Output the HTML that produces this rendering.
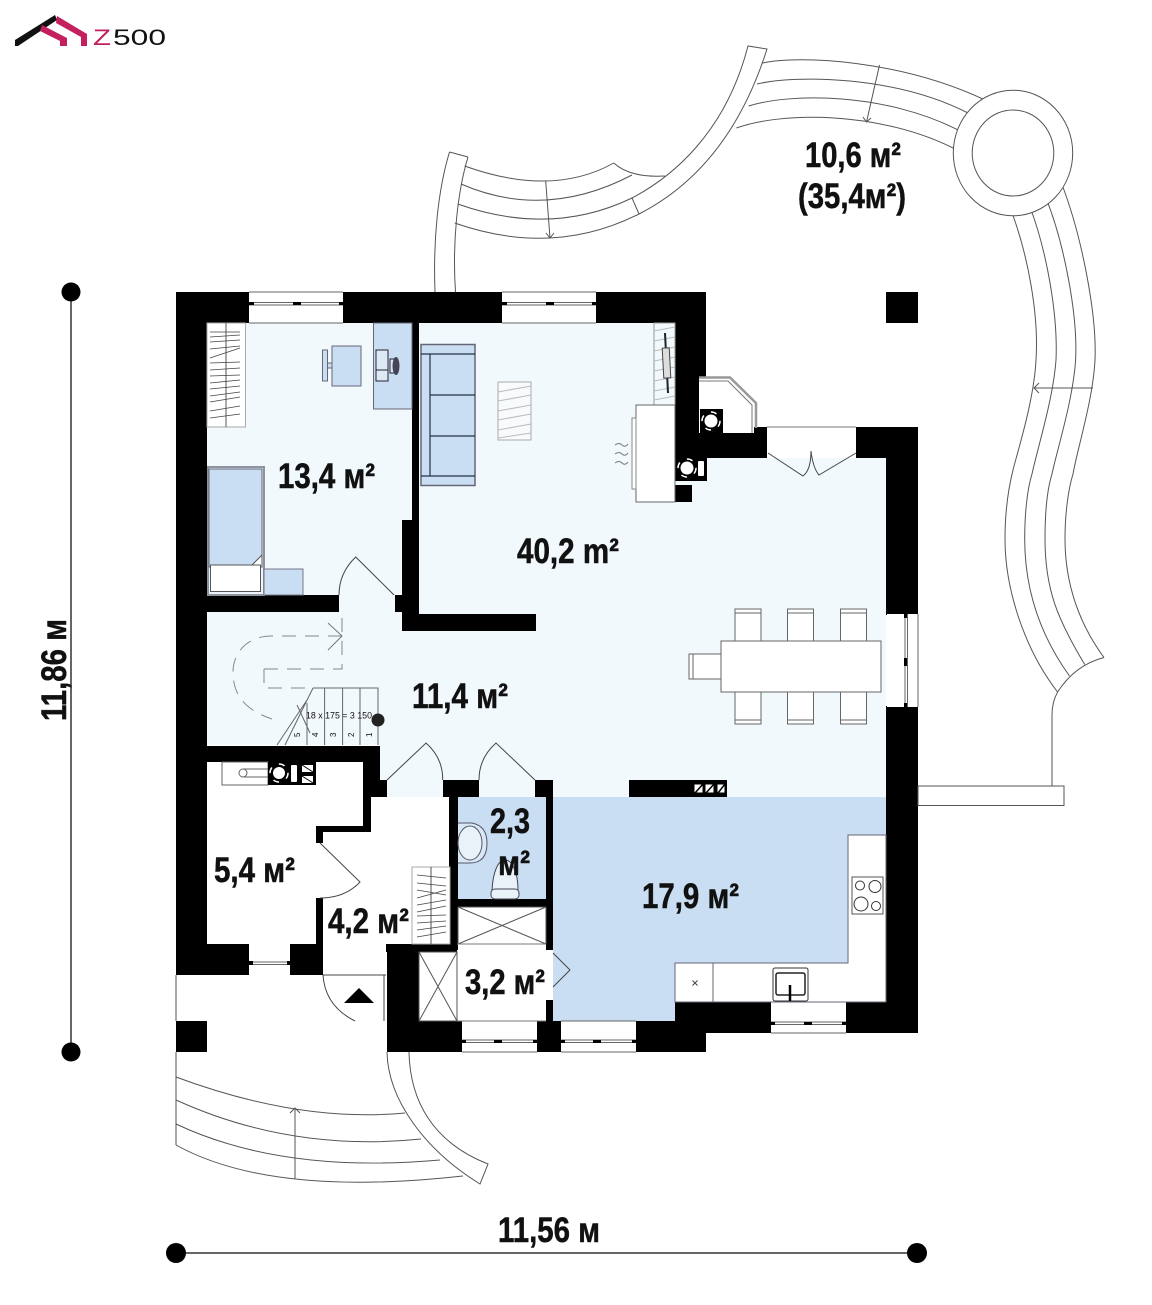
<!DOCTYPE html>
<html>
<head>
<meta charset="utf-8">
<style>
html,body{margin:0;padding:0;background:#fff;width:1152px;height:1305px;overflow:hidden}
svg{display:block}
text{font-family:"Liberation Sans",sans-serif;font-weight:400;fill:#111}
.b{font-weight:700;font-size:35px;stroke:#111;stroke-width:.5px}
.d{fill:none;stroke:#888;stroke-width:1;stroke-dasharray:14 9}
</style>
</head>
<body>
<svg width="1152" height="1305" viewBox="0 0 1152 1305" xmlns="http://www.w3.org/2000/svg">
<polygon points="207,323 675,323 675,458 886,458 886,797 380,797 380,745 207,745" fill="#f1f9fd"/>
<rect x="553" y="797" width="333" height="224" fill="#c9def2"/>
<rect x="458" y="797" width="88" height="102" fill="#c9def2"/>
<g fill="#000">
<rect x="176" y="292" width="73" height="31"/>
<rect x="343" y="292" width="159" height="31"/>
<rect x="596" y="292" width="110" height="31"/>
<rect x="176" y="292" width="31" height="683"/>
<rect x="412" y="323" width="7" height="200"/>
<rect x="402" y="520" width="17" height="111"/>
<rect x="402" y="614" width="134" height="17"/>
<rect x="207" y="595" width="132" height="17"/>
<rect x="395" y="595" width="8" height="17"/>
<rect x="675" y="323" width="31" height="55"/>
<rect x="675" y="375" width="24" height="106"/>
<rect x="699" y="433" width="68" height="25"/>
<rect x="754" y="427" width="13" height="10"/>
<rect x="677" y="458" width="30" height="23"/>
<rect x="675" y="485" width="17" height="17"/>
<rect x="856" y="427" width="62" height="31"/>
<rect x="886" y="427" width="32" height="188"/>
<rect x="886" y="292" width="32" height="31"/>
<rect x="886" y="706" width="32" height="327"/>
<rect x="846" y="1002" width="72" height="31"/>
<rect x="675" y="1002" width="96" height="31"/>
<rect x="636" y="1021" width="70" height="31"/>
<rect x="537" y="1021" width="24" height="31"/>
<rect x="387" y="1021" width="75" height="31"/>
<rect x="387" y="944" width="32" height="80"/>
<rect x="386" y="944" width="71" height="8"/>
<rect x="449" y="780" width="9" height="170"/>
<rect x="443" y="780" width="36" height="17"/>
<rect x="535" y="780" width="18" height="17"/>
<rect x="546" y="797" width="7" height="153"/>
<rect x="546" y="1000" width="7" height="22"/>
<rect x="449" y="899" width="97" height="8"/>
<rect x="207" y="746" width="173" height="16"/>
<rect x="363" y="762" width="17" height="35"/>
<rect x="380" y="780" width="7" height="17"/>
<rect x="363" y="797" width="8" height="35"/>
<rect x="316" y="826" width="55" height="6"/>
<rect x="316" y="826" width="7" height="17"/>
<rect x="316" y="898" width="7" height="46"/>
<rect x="176" y="944" width="73" height="31"/>
<rect x="290" y="944" width="33" height="31"/>
<rect x="176" y="1021" width="31" height="31"/>
<rect x="629" y="780" width="98" height="17"/>
</g>
<g fill="#fff">
<rect x="887" y="614" width="31" height="93"/>
<rect x="771" y="1002" width="75" height="31"/>
</g>
<g stroke="#666" stroke-width="1" fill="none">
<path d="M249,292H343M249,302.5H343M249,305H343M249,323H343"/>
<path d="M502,292H596M502,302.5H596M502,305H596M502,323H596"/>
<path d="M771,1002H846M771,1022H846M771,1024.5H846M771,1033H846"/>
<path d="M561,1021H636M561,1040H636M561,1042.5H636M561,1052H636"/>
<path d="M462,1021H537M462,1040H537M462,1042.5H537M462,1052H537"/>
<path d="M249,962H290M249,964.5H290"/>
<path d="M905,614V707M907.5,614V707M918,614V707"/>
</g>
<g fill="#000">
<rect x="249" y="302" width="5" height="3"/><rect x="293" y="302" width="8" height="3"/><rect x="339" y="302" width="4" height="3"/>
<rect x="502" y="302" width="5" height="3"/><rect x="546" y="302" width="8" height="3"/><rect x="592" y="302" width="4" height="3"/>
<rect x="771" y="1022" width="4" height="3"/><rect x="804" y="1022" width="8" height="3"/><rect x="842" y="1022" width="4" height="3"/>
<rect x="561" y="1040" width="4" height="3"/><rect x="593" y="1040" width="8" height="3"/><rect x="632" y="1040" width="4" height="3"/>
<rect x="462" y="1040" width="4" height="3"/><rect x="494" y="1040" width="8" height="3"/><rect x="533" y="1040" width="4" height="3"/>
<rect x="249" y="961" width="4" height="4"/><rect x="287" y="961" width="4" height="4"/>
<rect x="904" y="614" width="3" height="4"/><rect x="904" y="658" width="3" height="8"/><rect x="904" y="703" width="3" height="4"/>
</g>
<path d="M699,377.5H730L756,403V428" fill="none" stroke="#999" stroke-width="2.5"/>
<path d="M699,381H728L752,405V433" fill="none" stroke="#777" stroke-width="1"/>
<rect x="700" y="409" width="23" height="24" fill="#000"/>
<circle cx="711" cy="421" r="6.5" fill="#fff"/>
<circle cx="711" cy="421" r="9" fill="none" stroke="#fff" stroke-width="1.5" stroke-dasharray="6 8"/>
<circle cx="687" cy="468" r="6.5" fill="#fff"/>
<circle cx="687" cy="468" r="9" fill="none" stroke="#fff" stroke-width="1.5" stroke-dasharray="6 8"/>
<rect x="698" y="461" width="6" height="15" rx="1" fill="#fff"/>
<rect x="654" y="323" width="21" height="82" fill="#f1f9fd" stroke="#999"/>
<path d="M654,331L675,327M654,341L675,337M654,351L675,347M654,361L675,357M654,371L675,367M654,381L675,377M654,391L675,387M654,400L675,396" stroke="#bbb"/>
<path d="M665,333L668,393" stroke="#222" stroke-width="2"/>
<rect x="663" y="348" width="7" height="30" fill="#ddd" stroke="#444" transform="rotate(-3 666 363)"/>
<rect x="636" y="405" width="39" height="97" fill="#fff" stroke="#666"/>
<rect x="632" y="418" width="4" height="71" fill="#fff" stroke="#888"/>
<path d="M615,445q4,-3 7,0t6,-1M615,454q4,-3 7,0t6,-1M615,463q4,-3 7,0t6,-1" fill="none" stroke="#777"/>
<rect x="421" y="344.5" width="54" height="141" fill="#c9def2" stroke="#667" stroke-width="1.5"/>
<path d="M421,354H475M430,354V476M430,395H475M430,436H475M421,476H475" fill="none" stroke="#234" stroke-width="1.2"/>
<rect x="498" y="382" width="33" height="58" fill="#f8fbfc" stroke="#aaa"/>
<path d="M498,392L531,386M498,401L531,395M498,411L531,405M498,420L531,414M498,430L531,424M498,438L531,433" stroke="#bbb"/>
<rect x="207" y="323" width="38.5" height="104" fill="#fff" stroke="#aaa"/>
<path d="M226,323V427" stroke="#555"/>
<path d="M210,332L240,332M210,337L240,335M210,342L240,340M210,349L240,346M210,358L240,348M210,363L240,362M210,370L240,368M210,376L240,375M210,383L240,380M210,389L240,386M210,396L240,392M210,402L240,397M210,411L240,406M210,418L240,414" stroke="#444" stroke-width=".8"/>
<rect x="322.5" y="350" width="5" height="31" fill="#c9def2" stroke="#667"/>
<rect x="327.5" y="363" width="5" height="5" fill="#c9def2" stroke="#667"/>
<rect x="332" y="346" width="29" height="40" fill="#c9def2" stroke="#667"/>
<rect x="373.5" y="323" width="38.5" height="86" fill="#c9def2" stroke="#667"/>
<rect x="376" y="350" width="12" height="31" fill="#ddeaf5" stroke="#223"/>
<path d="M376,370H388" stroke="#223"/>
<rect x="390" y="359" width="4" height="14" fill="#ddeaf5" stroke="#223"/>
<ellipse cx="396" cy="366" rx="3.5" ry="9" fill="#445"/>
<rect x="208" y="467" width="56" height="128" fill="#eef4f9" stroke="#8a95a0" stroke-width="2"/>
<rect x="209" y="469" width="53" height="98" fill="#c9def2" stroke="#667"/>
<polygon points="250,567 262,555 262,567" fill="#fff" stroke="#555"/>
<rect x="210.5" y="565" width="50" height="26.5" fill="#fff" stroke="#555"/>
<rect x="264" y="569" width="39" height="26" fill="#c9def2" stroke="#778"/>
<g fill="none" stroke="#444" stroke-width="1">
<path d="M394,595L355.7,557Q339,573 339,595"/>
<path d="M387,780L426,743Q443,758 442.7,780"/>
<path d="M535,780L496,743Q479,758 479,780"/>
<path d="M320,843L360,882Q345,898 320,898"/>
<path d="M553,953L570,970L553,987"/>
<path d="M768,453L803,476Q811,470 811,451Q813,468 819,475L856,453"/>
<path d="M323,975H386M384,975V1021M323,975Q325,1006 355,1021"/>
<path d="M767,427H856" stroke="#777"/>
</g>
<g fill="none" stroke="#666" stroke-width="1">
<path d="M313,688H378V745M360,688V745M342.6,688V745M324.6,688V745M307,703V745"/>
<path d="M313,688L285,745M307,700L277,745M297,705L310,733"/>
</g>
<path class="d" d="M264,669H342V612M264,669V688H305"/>
<path class="d" d="M342,636H272C245,636 233,655 233,672C233,695 245,710 272,719"/>
<path d="M328,623L342,636L328,650" fill="none" stroke="#777"/>
<text x="306" y="718.5" font-size="9" textLength="66" lengthAdjust="spacingAndGlyphs">18 x 175 = 3 150</text>
<g font-size="8">
<text transform="translate(372,737) rotate(-90)">1</text>
<text transform="translate(354,737) rotate(-90)">2</text>
<text transform="translate(336,737) rotate(-90)">3</text>
<text transform="translate(318,737) rotate(-90)">4</text>
<text transform="translate(300,737) rotate(-90)">5</text>
</g>
<circle cx="378" cy="720" r="6.5" fill="#222"/>
<g fill="#fff" stroke="#666">
<rect x="735" y="609" width="26" height="32"/><rect x="787.5" y="609" width="26" height="32"/><rect x="840.5" y="609" width="26" height="32"/>
<rect x="735" y="692" width="26" height="32"/><rect x="787.5" y="692" width="26" height="32"/><rect x="840.5" y="692" width="26" height="32"/>
<rect x="689" y="654" width="32" height="25"/>
<rect x="721" y="641" width="160" height="51"/>
<path d="M735,613H761M787.5,613H813.5M840.5,613H866.5M735,720H761M787.5,720H813.5M840.5,720H866.5M693,654V679" fill="none"/>
</g>
<g fill="#fff" stroke="#000">
<rect x="694" y="784" width="9" height="9"/><rect x="705" y="784" width="9" height="9"/><rect x="717" y="784" width="8" height="9"/>
<path d="M695,793L703,784M706,793L714,784M718,793L725,784" stroke-width="1.5"/>
</g>
<polygon points="848,835 886,835 886,1002 675,1002 675,963 848,963" fill="#fff" stroke="#667"/>
<rect x="852" y="877" width="31" height="37" fill="#fff" stroke="#555"/>
<g fill="none" stroke="#333"><circle cx="860" cy="885.5" r="4.5"/><circle cx="875" cy="886.5" r="6"/><circle cx="861" cy="904" r="7"/><circle cx="876" cy="906" r="4.5"/></g>
<rect x="773" y="968" width="35" height="33" rx="2" fill="#fff" stroke="#333"/>
<rect x="776" y="973" width="29" height="22" rx="2" fill="#fff" stroke="#222" stroke-width="1.5"/>
<path d="M790,985V1001" stroke="#000" stroke-width="2.5"/>
<path d="M713,963V1002" stroke="#667"/>
<path d="M692.5,980.5l5,5M697.5,980.5l-5,5" stroke="#444"/>
<rect x="458" y="907" width="88" height="37" fill="#fff" stroke="#555"/>
<path d="M458,907L546,944M546,907L458,944" stroke="#555"/>
<rect x="419" y="952" width="38" height="69" fill="#fff" stroke="#555"/>
<path d="M419,952L457,1021M457,952L419,1021" stroke="#555"/>
<path d="M457,944H546M457,1021H546" stroke="#777"/>
<rect x="412" y="867" width="38" height="77" fill="#fff" stroke="#aaa"/>
<path d="M431,867V944" stroke="#555"/>
<path d="M417,875L446,878M417,883L446,886M417,890L446,895M417,898L446,890M417,905L446,900M417,912L446,906M417,916L446,915M417,923L446,921M417,930L446,926M417,937L446,932" stroke="#444" stroke-width=".8"/>
<rect x="222" y="762" width="46" height="23" fill="#fff" stroke="#666"/>
<path d="M243,769H268M243,777H268" stroke="#666"/>
<circle cx="243" cy="773" r="4" fill="#fff" stroke="#666"/>
<rect x="268" y="762" width="48" height="23" fill="#000"/>
<circle cx="279" cy="773" r="6" fill="#fff"/>
<circle cx="279" cy="773" r="9" fill="none" stroke="#fff" stroke-width="1.5" stroke-dasharray="6 8"/>
<rect x="291" y="765" width="6" height="17" rx="1" fill="#fff"/>
<rect x="302" y="765" width="11" height="7" fill="#fff"/><rect x="302" y="776" width="11" height="7" fill="#fff"/>
<path d="M302,765L313,772M302,776L313,783" stroke="#000"/>
<path d="M458,823H472Q487,826 487,843Q487,863 470,863H458" fill="#d9e8f5" stroke="#556"/>
<ellipse cx="470" cy="843" rx="12" ry="17" fill="#eaf2f9" stroke="#556"/>
<path d="M492,890C493,872 498,860 505,860C512,860 518,872 518,890" fill="#eaf2f9" stroke="#445"/>
<rect x="491" y="889" width="28" height="10" rx="4" fill="#eaf2f9" stroke="#445"/>
<polygon points="359,988 344,1003 374,1003" fill="#000"/>
<g fill="none" stroke="#555" stroke-width="1">
<path d="M176,975V1021M176,1052V1145"/>
<path d="M176,1077Q299.5,1123 405,1113"/>
<path d="M176,1100Q291.5,1152.5 421,1139"/>
<path d="M176,1124Q282,1174 440,1160"/>
<path d="M176,1145Q270.5,1197.5 463,1176"/>
<path d="M295,1179V1108M290,1113L295,1108L300,1113"/>
<path d="M387,1052C388,1100 425,1150 480,1184L488,1164C432,1142 410,1100 409,1052"/>
<path d="M449.5,152C438,190 433,240 435,292M468,157C458,190 452,240 455.5,292M449.5,152L468,157"/>
<path d="M464.6,166Q552,197.5 613.8,163"/>
<path d="M461,184Q545,220.5 632,175"/>
<path d="M457.7,204Q551,237 632,198"/>
<path d="M454.7,223Q553,257.5 639,214C680,193 735,150 767,49L748,46C725,135 670,178 632,198L639,214"/>
<path d="M613.8,163Q630,178 665,176"/>
<path d="M545.7,181L550,238M546,233L550,238L554,233"/>
<path d="M762.4,63C800,55 900,60 985,100"/>
<path d="M757,84C795,75 895,75 970,114"/>
<path d="M748.6,106C790,93 885,92 960,131"/>
<path d="M736.4,128C780,112 880,110 957,150"/>
<path d="M879.5,65L866.5,122M863,117L866.5,122L871,118"/>
<path d="M1011,210C1028,255 1039,315 1036,360C1034,400 1018,450 1013,470C1008,490 1005,515 1005,539C1005,590 1025,650 1057.6,692"/>
<path d="M1030,207C1047,252 1058,315 1056,360C1053,400 1037,450 1032,474C1027,490 1024.7,515 1024.7,539C1024.7,590 1040,635 1069.5,676"/>
<path d="M1046,198C1064,243 1078,315 1075.6,360C1073,400 1057,450 1052,474C1047,490 1045,515 1045,539C1045,590 1058,620 1084.7,664.5"/>
<path d="M1061,182C1082,236 1097,315 1095,360C1093,400 1077,450 1073,474C1068,490 1065,515 1065,539C1065,585 1080,625 1104,657.5"/>
<path d="M1093,388H1034M1039,383L1034,388L1039,393"/>
<path d="M1104,657.5Q1075,665 1057.6,692Q1052,702 1052,715V786"/>
<rect x="918" y="786" width="146" height="19.5"/>
</g>
<ellipse cx="1013" cy="153" rx="59.7" ry="62.8" fill="#fff" stroke="#555"/>
<ellipse cx="1013" cy="153" rx="40.8" ry="43" fill="#fff" stroke="#555"/>
<text class="b" x="278" y="488" textLength="97" lengthAdjust="spacingAndGlyphs">13,4 м²</text>
<text class="b" x="517" y="563" textLength="102" lengthAdjust="spacingAndGlyphs">40,2 m²</text>
<text class="b" x="412" y="708" textLength="96" lengthAdjust="spacingAndGlyphs">11,4 м²</text>
<text class="b" x="214" y="882" textLength="81" lengthAdjust="spacingAndGlyphs">5,4 м²</text>
<text class="b" x="328" y="933" textLength="81" lengthAdjust="spacingAndGlyphs">4,2 м²</text>
<text class="b" x="490" y="833" textLength="40" lengthAdjust="spacingAndGlyphs">2,3</text>
<text class="b" x="498" y="875" textLength="32" lengthAdjust="spacingAndGlyphs">м²</text>
<text class="b" x="465" y="994" textLength="80" lengthAdjust="spacingAndGlyphs">3,2 м²</text>
<text class="b" x="642" y="908" textLength="97" lengthAdjust="spacingAndGlyphs">17,9 м²</text>
<text class="b" x="805" y="167" textLength="96" lengthAdjust="spacingAndGlyphs">10,6 м²</text>
<text class="b" x="798" y="208" textLength="108" lengthAdjust="spacingAndGlyphs">(35,4м²)</text>
<text class="b" x="498" y="1242" textLength="102" lengthAdjust="spacingAndGlyphs">11,56 м</text>
<text class="b" transform="translate(66,721) rotate(-90)" textLength="102" lengthAdjust="spacingAndGlyphs">11,86 м</text>
<path d="M71,292V1052M176,1253H917" stroke="#333" stroke-width="1.5"/>
<circle cx="71" cy="292" r="9.5"/><circle cx="71" cy="1052" r="9.5"/>
<circle cx="176" cy="1253" r="10"/><circle cx="917" cy="1253" r="10"/>
<polygon points="15,40 55,15 57,20 18,46 15,46" fill="#111"/>
<polygon points="57,16 87,34 87,46 81,46 81,37 56,23" fill="#c4205f"/>
<polygon points="42,25 67,38 67,46 60,46 60,41 40,31" fill="#c4205f"/>
<text x="93" y="45" font-size="22" textLength="18" lengthAdjust="spacingAndGlyphs" style="fill:#c4205f">Z</text>
<text x="113" y="45" font-size="22" textLength="53" lengthAdjust="spacingAndGlyphs">500</text>
</svg>
</body>
</html>
